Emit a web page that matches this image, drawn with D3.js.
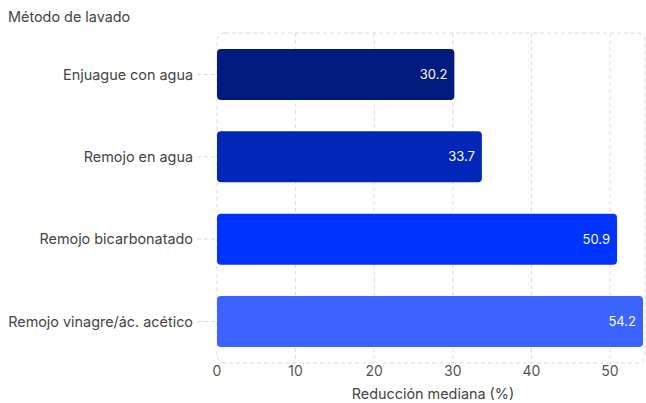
<!DOCTYPE html>
<html>
<head>
<meta charset="utf-8">
<script src="https://cdn.jsdelivr.net/npm/d3@7"></script>
<style>
  body { margin: 0; background: #fff; }
  svg { font-family: Inter, "Noto Sans", sans-serif; }
</style>
</head>
<body>
<svg width="646" height="403"></svg>
<script>
// data
var categories = ["Enjuague con agua", "Remojo en agua", "Remojo bicarbonatado", "Remojo vinagre/ác. acético"];
var values = [30.2, 33.7, 50.9, 54.2];
var colors = ["#001a7e", "#0226b8", "#0033ff", "#3c62ff"];
var xTicks = [0, 10, 20, 30, 40, 50];

var svg = d3.select("svg");
var plot = {left: 217, right: 645, top: 33, bottom: 363};

var x = d3.scaleLinear().domain([0, 54.2]).range([plot.left, 643]);
var y = d3.scaleBand().domain(categories).range([plot.top, plot.bottom]).paddingInner(0.38).paddingOuter(0.194);

// plot frame
svg.append("rect")
  .attr("x", plot.left).attr("y", plot.top)
  .attr("width", plot.right - plot.left).attr("height", plot.bottom - plot.top)
  .attr("rx", 8)
  .attr("fill", "none").attr("stroke", "#dcdcdc").attr("stroke-dasharray", "4,3");

// vertical grid
svg.append("g").selectAll("line").data(xTicks.slice(1)).enter().append("line")
  .attr("x1", function(d) { return x(d); }).attr("x2", function(d) { return x(d); })
  .attr("y1", plot.top).attr("y2", plot.bottom)
  .attr("stroke", "#dcdcdc").attr("stroke-dasharray", "4,3");

// category tick marks
svg.append("g").selectAll("line").data(categories).enter().append("line")
  .attr("x1", plot.left - 20).attr("x2", plot.left)
  .attr("y1", function(d) { return y(d) + y.bandwidth() / 2; })
  .attr("y2", function(d) { return y(d) + y.bandwidth() / 2; })
  .attr("stroke", "#dcdcdc").attr("stroke-dasharray", "4,3");

// bars
svg.append("g").selectAll("rect").data(values).enter().append("rect")
  .attr("x", x(0))
  .attr("y", function(d, i) { return y(categories[i]); })
  .attr("width", function(d) { return x(d) - x(0); })
  .attr("height", y.bandwidth())
  .attr("rx", 4)
  .attr("fill", function(d, i) { return colors[i]; });

// value labels
svg.append("g").selectAll("text").data(values).enter().append("text")
  .attr("x", function(d) { return x(d) - 7; })
  .attr("y", function(d, i) { return y(categories[i]) + y.bandwidth() / 2; })
  .attr("dy", "0.35em")
  .attr("text-anchor", "end")
  .attr("fill", "#fff")
  .attr("font-size", 13)
  .text(function(d) { return d.toFixed(1); });

// category labels
svg.append("g").selectAll("text").data(categories).enter().append("text")
  .attr("x", 193)
  .attr("y", function(d) { return y(d) + y.bandwidth() / 2; })
  .attr("dy", "0.35em")
  .attr("text-anchor", "end")
  .attr("fill", "#444")
  .attr("font-size", 14.4)
  .text(function(d) { return d; });

// x tick labels
svg.append("g").selectAll("text").data(xTicks).enter().append("text")
  .attr("x", function(d) { return x(d); })
  .attr("y", 371)
  .attr("dy", "0.35em")
  .attr("text-anchor", "middle")
  .attr("fill", "#555")
  .attr("font-size", 14)
  .text(function(d) { return d; });

// titles
svg.append("text")
  .attr("x", 8).attr("y", 22)
  .attr("fill", "#444").attr("font-size", 14.4)
  .text("Método de lavado");

svg.append("text")
  .attr("x", 433).attr("y", 394)
  .attr("dy", "0.35em")
  .attr("text-anchor", "middle")
  .attr("fill", "#444").attr("font-size", 14.4)
  .text("Reducción mediana (%)");
</script>
</body>
</html>
